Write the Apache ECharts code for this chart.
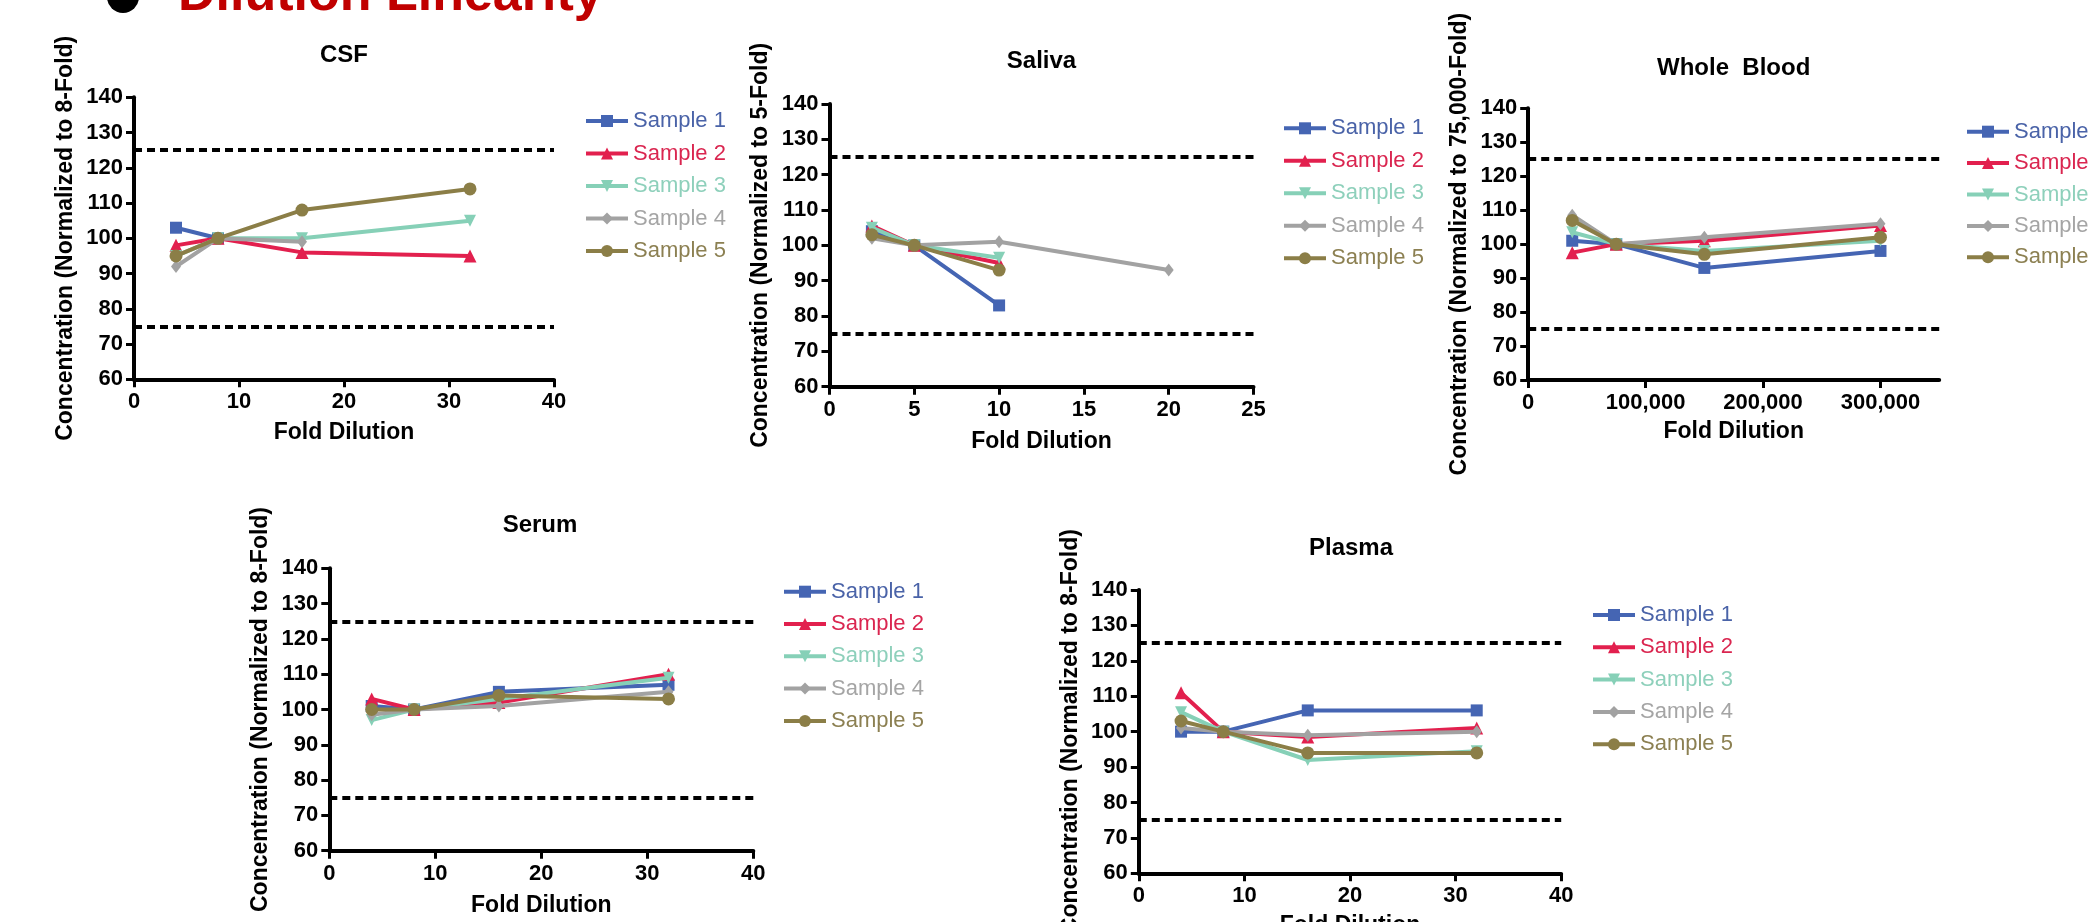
<!DOCTYPE html>
<html>
<head>
<meta charset="utf-8">
<style>
html,body{margin:0;padding:0;background:#fff;}
#main{width:2093px;height:922px;}
</style>
<script src="https://cdn.jsdelivr.net/npm/echarts@6/dist/echarts.min.js"></script>
</head>
<body>
<div id="main"></div>
<script>
// ---------------- DATA ----------------
const sampleNames = ['Sample 1', 'Sample 2', 'Sample 3', 'Sample 4', 'Sample 5'];
const limitValues = [125, 75];

const csfX = [4, 8, 16, 32];
const csfS1 = [103, 100, null, null];
const csfS2 = [98, 100, 96, 95];
const csfS3 = [95, 100, 100, 105];
const csfS4 = [92, 100, 99, null];
const csfS5 = [95, 100, 108, 114];

const salivaX = [2.5, 5, 10, 20];
const salivaS1 = [104, 100, 83, null];
const salivaS2 = [105.5, 100, 95, null];
const salivaS3 = [105, 100, 96.5, null];
const salivaS4 = [102, 100, 101, 93];
const salivaS5 = [103, 100, 93, null];

const bloodX = [37500, 75000, 150000, 300000];
const bloodS1 = [101, 100, 93, 98];
const bloodS2 = [97.5, 100, 101, 105.5];
const bloodS3 = [103.5, 100, 98, 101];
const bloodS4 = [108.5, 100, 102, 106];
const bloodS5 = [107, 100, 97, 102];

const serumX = [4, 8, 16, 32];
const serumS1 = [101, 100, 105, 107];
const serumS2 = [103, 100, 102, 110];
const serumS3 = [97, 100, 103, 109];
const serumS4 = [98.5, 100, 101, 105];
const serumS5 = [100, 100, 104, 103];

const plasmaX = [4, 8, 16, 32];
const plasmaS1 = [100, 100, 106, 106];
const plasmaS2 = [111, 100, 98.5, 101];
const plasmaS3 = [105.5, 100, 92, 94.5];
const plasmaS4 = [101, 100, 99, 100];
const plasmaS5 = [103, 100, 94, 94];

const bloodXTicks = [0, 100000, 200000, 300000];

// ---------------- STYLE ----------------
const FONT = "'Liberation Sans', Arial, Helvetica, sans-serif";
const colors = ['#4565B3', '#E2204E', '#86D0B7', '#A2A2A2', '#8B7E47'];
const textColors = ['#4A63A8', '#DA2650', '#8ED0BB', '#A5A5A5', '#8C8052'];
const symbols = ['rect', 'triangle', 'path://M0,0L2,0L1,1.732Z', 'diamond', 'circle'];
const symbolSizes = [12, 13, 12, [10, 13], 13];

const panels = [
  { title: 'CSF', tx: 344, ty: 55, x: csfX, s: [csfS1, csfS2, csfS3, csfS4, csfS5],
    grid: { left: 134, top: 97.3, width: 420, height: 282 },
    xMin: 0, xMax: 40, xInt: 10, yName: 'Concentration (Normalized to 8-Fold)',
    legend: { left: 579, top: 105, gap: 10.5 }, xNameGap: 42 },
  { title: 'Saliva', tx: 1041.5, ty: 61.7, x: salivaX, s: [salivaS1, salivaS2, salivaS3, salivaS4, salivaS5],
    grid: { left: 829.5, top: 104, width: 424, height: 282.7 },
    xMin: 0, xMax: 25, xInt: 5, yName: 'Concentration (Normalized to 5-Fold)',
    legend: { left: 1277, top: 112.3, gap: 10.5 }, xNameGap: 43.5 },
  { title: 'Whole  Blood', tx: 1733.7, ty: 68.3, x: bloodX, s: [bloodS1, bloodS2, bloodS3, bloodS4, bloodS5],
    grid: { left: 1528.2, top: 108.3, width: 411, height: 271.7 },
    xMin: 0, xMax: 350000, xInt: 100000, custom: bloodXTicks, yName: 'Concentration (Normalized to 75,000-Fold)',
    legend: { left: 1960, top: 115.7, gap: 9.4 }, xNameGap: 40 },
  { title: 'Serum', tx: 540, ty: 525, x: serumX, s: [serumS1, serumS2, serumS3, serumS4, serumS5],
    grid: { left: 329.3, top: 568.3, width: 424, height: 282.4 },
    xMin: 0, xMax: 40, xInt: 10, yName: 'Concentration (Normalized to 8-Fold)',
    legend: { left: 777, top: 575.7, gap: 10.3 }, xNameGap: 43 },
  { title: 'Plasma', tx: 1351, ty: 548.3, x: plasmaX, s: [plasmaS1, plasmaS2, plasmaS3, plasmaS4, plasmaS5],
    grid: { left: 1138.8, top: 590, width: 422.4, height: 283.3 },
    xMin: 0, xMax: 40, xInt: 10, yName: 'Concentration (Normalized to 8-Fold)',
    legend: { left: 1586, top: 599, gap: 10.3 }, xNameGap: 41 }
];

function fmtNum(v) {
  return String(v).replace(/\B(?=(\d{3})+(?!\d))/g, ',');
}

const grids = [], xAxes = [], yAxes = [], series = [], legends = [], graphics = [];

panels.forEach((p, i) => {
  grids.push(Object.assign({ containLabel: false, outerBoundsMode: 'none' }, p.grid));
  const axisLine = { show: true, onZero: false, lineStyle: { color: '#000', width: 4 } };
  const axisTick = { show: true, inside: false, length: 8, lineStyle: { color: '#000', width: 3 } };
  const axisLabelBase = { color: '#000', fontFamily: FONT, fontWeight: 'bold', fontSize: 22 };
  const xa = {
    type: 'value', gridIndex: i, min: p.xMin, max: p.xMax, interval: p.xInt,
    splitLine: { show: false },
    axisLine: axisLine,
    axisTick: Object.assign({}, axisTick),
    axisLabel: Object.assign({ margin: 12, formatter: v => fmtNum(v) }, axisLabelBase),
    name: 'Fold Dilution', nameLocation: 'middle', nameGap: p.xNameGap,
    nameTextStyle: { color: '#000', fontFamily: FONT, fontWeight: 'bold', fontSize: 23 }
  };
  if (p.custom) {
    xa.axisTick.customValues = p.custom;
    xa.axisLabel.customValues = p.custom;
  }
  xAxes.push(xa);
  yAxes.push({
    type: 'value', gridIndex: i, min: 60, max: 140, interval: 10,
    splitLine: { show: false },
    axisLine: axisLine,
    axisTick: axisTick,
    axisLabel: Object.assign({ margin: 11 }, axisLabelBase),
    name: p.yName, nameLocation: 'middle', nameRotate: 90, nameGap: 57,
    nameTextStyle: { color: '#000', fontFamily: FONT, fontWeight: 'bold', fontSize: 23 }
  });
  p.s.forEach((vals, k) => {
    const data = [];
    vals.forEach((v, j) => { if (v !== null) data.push([p.x[j], v]); });
    series.push({
      type: 'line', name: sampleNames[k], xAxisIndex: i, yAxisIndex: i,
      data: data, symbol: symbols[k], symbolSize: symbolSizes[k],
      showAllSymbol: true,
      itemStyle: { color: colors[k] },
      lineStyle: { color: colors[k], width: 4 },
      z: 3 + k
    });
  });
  series.push({
    type: 'line', name: 'limits' + i, xAxisIndex: i, yAxisIndex: i, data: [],
    markLine: {
      silent: true, symbol: 'none', animation: false,
      label: { show: false },
      lineStyle: { type: [8, 5], width: 4, color: '#000' },
      data: limitValues.map(v => ({ yAxis: v }))
    }
  });
  legends.push({
    orient: 'vertical', left: p.legend.left, top: p.legend.top,
    itemWidth: 42, itemHeight: 15, itemGap: p.legend.gap,
    selectedMode: false,
    lineStyle: { width: 4 },
    textStyle: { fontFamily: FONT, fontSize: 22, lineHeight: 22 },
    data: sampleNames.map((n, k) => ({ name: n, textStyle: { color: textColors[k] } }))
  });
  graphics.push({
    type: 'text', x: p.tx, y: p.ty,
    style: { text: p.title, font: 'bold 24px ' + FONT, fill: '#000', align: 'center', verticalAlign: 'middle' }
  });
});

// Top header (partially cut off)
graphics.push({ type: 'circle', shape: { cx: 123, cy: -3, r: 16 }, style: { fill: '#000' } });
graphics.push({
  type: 'text', x: 178, y: -4,
  style: { text: 'Dilution Linearity', font: 'bold 52px ' + FONT, fill: '#C00000', align: 'left', verticalAlign: 'middle' }
});

const chart = echarts.init(document.getElementById('main'), null, { renderer: 'canvas', width: 2093, height: 922 });
chart.setOption({
  backgroundColor: '#fff',
  animation: false,
  grid: grids,
  xAxis: xAxes,
  yAxis: yAxes,
  legend: legends,
  series: series,
  graphic: graphics
});
</script>
</body>
</html>
